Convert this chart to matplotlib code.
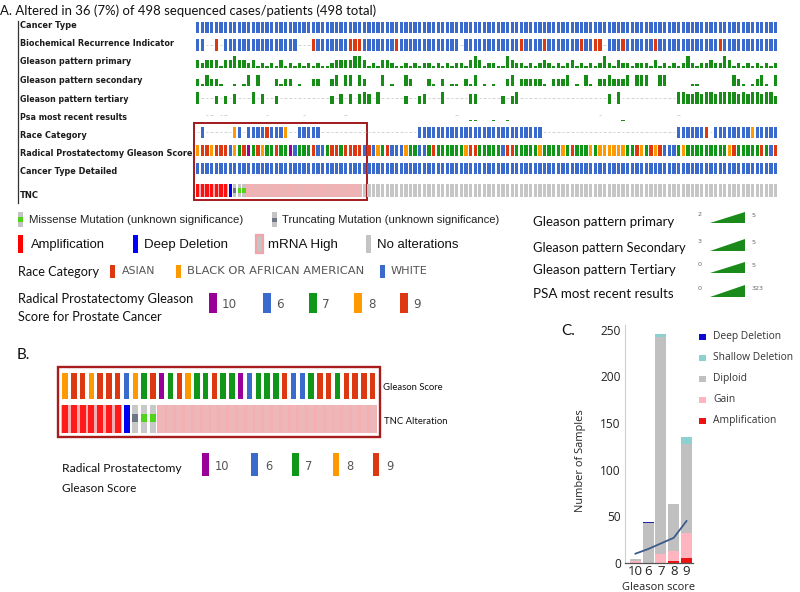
import matplotlib
matplotlib.use('Agg')
import matplotlib.pyplot as plt
from matplotlib.patches import Rectangle, Polygon
import numpy as np

# ---------------- DATA ----------------
N_COLS = 126
track_labels = ["Cancer Type", "Biochemical Recurrence Indicator", "Gleason pattern primary",
                "Gleason pattern secondary", "Gleason pattern tertiary", "Psa most recent results",
                "Race Category", "Radical Prostatectomy Gleason Score", "Cancer Type Detailed", "TNC"]

cancer_type = ("PPPPPPPPPPPPPPPPPPPPPPPPPP"
               "PPPPPPPPPPPPPPPPPPPPPPPPP"
               "PPPPPPPPPPPPPPPPPPPPPPPPP"
               "PPPPPPPPPPPPPPPPPPPPPPPPP"
               "PPPPPPPPPPPPPPPPPPPPPPPPP")
biochem = ("NN--Y-NNNNNNNNNNNNNNNN---Y"
           "NNNNNNNYYYNNNNNNNYNNNNNNN"
           "NNNNNN-NNNNNNNNNNNNYNNNNY"
           "NNNNNNNYNNYY-NNNYNNNNNNYN"
           "NNNNNNNNNNNNYNNNNNNNNNNNN")
gleason_primary = ("43444244544342323242323232"
                   "3223444455423244322323233"
                   "2323233245423322543323234"
                   "3232342323235324332333242"
                   "3232353233433542323232323")
gleason_secondary = ("435443--3-35-5---4344-3--4"
                     "4--45-55-54---5-3--54---4"
                     "3-4-33-435-3-3--45-444443"
                     "-4445-3-53-4454445-555--5"
                     "5-----33-------543-3453-5")
gleason_tertiary = ("5---3-3-4---5-4--3--------"
                    "---3-4-4-454-5-----3--34-"
                    "--5-----44-----3-35------"
                    "-------------4-5---------"
                    "---5544545545555454554553")
psa_tens = ("00--0--00000000-0000000-00"
            "000000-000000000000000000"
            "00000-0023000200200000000"
            "00000000000-0000200000000"
            "000-000000000000000000000")
race = ("-W------BW-WWWWAWWWB--WWWW"
        "W---------------------WWW"
        "WWWWWWWWWWWWWWWWWWWWWWWW-"
        "-------------------------"
        "---WWWWWWA-WWWWWWWWBWWWWW")
rp_gleason = ("899899968790798779770677796679979999"
              "69687966687766"
              "7977777789977777699777778"
              "7777879777878888887798798"
              "96667877777777789777779769")
cancer_type_detailed = ("PPPPPPPPPPPPPPPPPPPPPPPPPP"
                        "PPPPPPPPPPPPPPPPPPPPPPPPP"
                        "PPPPPPPPPPPPPPPPPPPPPPPPP"
                        "PPPPPPPPPPPPPPPPPPPPPPPPP"
                        "PPPPPPPPPPPPPPPPPPPPPPPPP")
tnc = ("AAAAAAADTMMHHHHHHHHHHHHHHHHHHHHHHHHH"
       "NNNNNNNNNNNNNNNNNNNNNNNNNNNNNN"
       "NNNNNNNNNNNNNNNNNNNNNNNNNNNNNN"
       "NNNNNNNNNNNNNNNNNNNNNNNNNNNNNN")
for s in (cancer_type, biochem, gleason_primary, gleason_secondary, gleason_tertiary,
          psa_tens, race, rp_gleason, cancer_type_detailed, tnc):
    assert len(s) == N_COLS, len(s)

n_altered_box = 36  # columns in highlighted box / panel B

gleason_legend = ["10", "6", "7", "8", "9"]
race_legend = ["ASIAN", "BLACK OR AFRICAN AMERICAN", "WHITE"]
alt_legend = ["Amplification", "Deep Deletion", "mRNA High", "No alterations"]
range_rows = ["Gleason pattern primary", "Gleason pattern Secondary",
              "Gleason pattern Tertiary", "PSA most recent results"]
range_lo = ["2", "3", "0", "0"]
range_hi = ["5", "5", "5", "323"]

# Panel C
c_cats = ["10", "6", "7", "8", "9"]
c_amplification = [0, 0, 0, 2, 5]
c_gain = [2, 0, 10, 11, 27]
c_diploid = [2, 43, 232, 50, 96]
c_shallow = [0, 0, 3, 0, 7]
c_deep = [0, 1, 0, 0, 0]
c_trend = [10, 15, 21, 27, 45]

# ---------------- STYLE ----------------
BLUE = '#3a6bcc'; RED = '#dc3912'; ORANGE = '#ff9900'; GREEN = '#109618'; PURPLE = '#990099'
NUMG = '#178c17'
g_colors = {'0': PURPLE, '6': BLUE, '7': GREEN, '8': ORANGE, '9': RED}

W, H = 800, 592
fig = plt.figure(figsize=(8, 5.92), dpi=100)
fig.patch.set_facecolor('white')
ax0 = fig.add_axes([0, 0, 1, 1])
ax0.set_xlim(0, W); ax0.set_ylim(H, 0); ax0.axis('off')
renderer = fig.canvas.get_renderer()


def px_axes(x0, y0, x1, y1, z=1):
    a = fig.add_axes([x0 / W, 1 - y1 / H, (x1 - x0) / W, (y1 - y0) / H])
    a.set_zorder(z)
    return a


def fit_text(ax, x, y, s, width, family='Lato', weight='normal', color='#111',
             ha='left', va='center', rotation=0, size=None):
    t = ax.text(x, y, s, fontsize=10 if size is None else size, family=family,
                weight=weight, color=color, ha=ha, va=va, rotation=rotation)
    if size is None:
        bb = t.get_window_extent(renderer=renderer)
        cur = bb.height if rotation == 90 else bb.width
        t.set_fontsize(10 * width / cur)
    return t

# ---------------- PANEL A ----------------
fit_text(ax0, 0, 11, "A. Altered in 36 (7%) of 498 sequenced cases/patients (498 total)", 378,
         family='Lato', color='#111')
ax0.plot([18, 18], [21, 203], color='#333333', lw=0.9)

label_y = [25.7, 43.7, 62, 80.7, 99, 117, 135, 153, 171.7, 195]
label_w = [57, 155, 110.5, 123, 108, 107.5, 66.5, 173, 97, 19]
for lab, y, w in zip(track_labels, label_y, label_w):
    fit_text(ax0, 19.5, y, lab, w, family='DejaVu Sans', weight='bold', color='#1c1c1c')

ax1 = px_axes(195.5, 18, 778, 203)
ax1.set_xlim(-0.5, N_COLS - 0.5); ax1.set_ylim(203, 18); ax1.axis('off')
track_top = [21.5, 39, 56.5, 74.5, 92, 109.5, 126.5, 144.5, 162.5, 184]
TH = 11.5
BW = 0.72


def dashes(row, miss):
    if len(miss) == 0:
        return
    y = track_top[row] + TH / 2
    m = np.array(miss)
    ax1.hlines(np.full(len(m), y), m - 0.28, m + 0.28, colors='#d2d2d2', lw=0.7)


def cat_track(row, codes, cmap, dash=True):
    xs = [i for i, c in enumerate(codes) if c in cmap]
    ax1.bar(xs, TH, bottom=track_top[row], width=BW,
            color=[cmap[codes[i]] for i in xs], linewidth=0)
    if dash:
        dashes(row, [i for i, c in enumerate(codes) if c not in cmap])


def num_track(row, codes, lo, hi, dash=True, minh=0.9):
    base = track_top[row] + TH
    xs, hs = [], []
    for i, c in enumerate(codes):
        if c == '-':
            continue
        v = int(c)
        frac = (v - lo + 0.5) / (hi - lo + 0.5)
        xs.append(i); hs.append(max(frac * TH, minh))
    ax1.bar(xs, -np.array(hs), bottom=base, width=BW, color=NUMG, linewidth=0)
    if dash:
        dashes(row, [i for i, c in enumerate(codes) if c == '-'])


cat_track(0, cancer_type, {'P': BLUE})
cat_track(1, biochem, {'N': BLUE, 'Y': RED})
num_track(2, gleason_primary, 2, 5)
num_track(3, gleason_secondary, 3, 5, dash=False)
num_track(4, gleason_tertiary, 0, 5)
# PSA: tiny values
base = track_top[5] + TH
xs = [i for i, c in enumerate(psa_tens) if c not in '-0']
ax1.bar(xs, [-max(int(psa_tens[i]) * 10 / 323 * TH, 0.9) for i in xs], bottom=base,
        width=BW, color=NUMG, linewidth=0)
dashes(5, [i for i, c in enumerate(psa_tens) if c == '-'])
cat_track(6, race, {'W': BLUE, 'A': RED, 'B': ORANGE})
cat_track(7, rp_gleason, g_colors)
cat_track(8, cancer_type_detailed, {'P': BLUE})

# TNC track
TT, TTH = track_top[9], 13
pink_cols = [i for i, c in enumerate(tnc) if c in 'AH']
ax1.bar(pink_cols, TTH, bottom=TT, width=1.0, color='#f4b1b4', linewidth=0)
tnc_col = {'A': '#ff1010', 'D': '#0000ee', 'T': '#c4c4c4', 'M': '#c4c4c4', 'H': '#ecb4b6', 'N': '#c6c6c6'}
ax1.bar(range(N_COLS), TTH, bottom=TT, width=BW, color=[tnc_col[c] for c in tnc], linewidth=0)
for code, col in (('T', '#6d7684'), ('M', '#4fd41a')):
    xs = [i for i, c in enumerate(tnc) if c == code]
    ax1.bar(xs, TTH / 3, bottom=TT + TTH / 3, width=BW, color=col, linewidth=0)

ax0.add_patch(Rectangle((194, 122.5), 173, 77.5, fill=False, ec='#a3191c', lw=1.4, zorder=5))

# ---- legends (left) ----
ax0.add_patch(Rectangle((18, 212), 5, 15, fc='#c4c4c4', lw=0))
ax0.add_patch(Rectangle((18, 217), 5, 5, fc='#4fd41a', lw=0))
fit_text(ax0, 29, 220, "Missense Mutation (unknown significance)", 214, family='Liberation Sans', color='#222')
ax0.add_patch(Rectangle((272, 212), 4.5, 15, fc='#c4c4c4', lw=0))
ax0.add_patch(Rectangle((272, 217.5), 4.5, 4.5, fc='#6d7684', lw=0))
fit_text(ax0, 282, 220, "Truncating Mutation (unknown significance)", 219, family='Liberation Sans', color='#222')

alt_sw = [(18, 5, '#ff0000', None), (133, 5, '#0000ff', None), (255.5, 7.5, '#c4c4c4', '#f4a4a8'),
          (366, 5, '#c4c4c4', None)]
alt_tx = [(31, 74), (144, 84), (268, 70), (377, 82)]
for (x, w, fc, ec), (tx, tw), s in zip(alt_sw, alt_tx, alt_legend):
    ax0.add_patch(Rectangle((x, 235), w, 18, fc=fc, ec=ec if ec else 'none', lw=1.6 if ec else 0))
    fit_text(ax0, tx, 245, s, tw, family='Liberation Sans', color='#111')

fit_text(ax0, 18, 272, "Race Category", 81, family='Lato', color='#111')
race_sw = [(110, RED), (176, ORANGE), (380, BLUE)]
race_tx = [(122, 33), (187, 176), (391, 37)]
for (x, c), (tx, tw), s in zip(race_sw, race_tx, race_legend):
    ax0.add_patch(Rectangle((x, 265), 5, 13, fc=c, lw=0))
    fit_text(ax0, tx, 271.5, s, tw, family='DejaVu Sans', color='#555')

fit_text(ax0, 18, 299, "Radical Prostatectomy Gleason", 176, family='Lato', color='#111')
fit_text(ax0, 18, 317, "Score for Prostate Cancer", 145, family='Lato', color='#111')
gsw_x = [208.5, 263, 309, 354, 400]
gtx_x = [222, 276, 322, 368, 413]
for x, tx, s in zip(gsw_x, gtx_x, gleason_legend):
    c = g_colors['0' if s == '10' else s]
    ax0.add_patch(Rectangle((x, 293), 8, 20, fc=c, lw=0))
    ax0.text(tx, 304, s, fontsize=8.6, family='DejaVu Sans', color='#555', va='center')

# ---- legends (right, ranges) ----
rr_y = [221.7, 248, 270.5, 294]
tri = [(212, 223), (238.5, 251), (262, 273), (285, 297)]
rr_w = [141, 154, 143, 141]
for s, y, (t0, t1), w, lo, hi in zip(range_rows, rr_y, tri, rr_w, range_lo, range_hi):
    fit_text(ax0, 533, y, s, w, family='Lato', color='#111')
    ax0.add_patch(Polygon([(710, t1), (745, t1), (745, t0)], closed=True, fc='#1a8a1a', lw=0))
    ax0.text(698, t0 + 3, lo, fontsize=4.6, family='DejaVu Sans', color='#666', va='center')
    ax0.text(751.5, t0 + 3.5, hi, fontsize=4.6, family='DejaVu Sans', color='#666', va='center')

# ---------------- PANEL B ----------------
ax0.text(17, 355, "B.", fontsize=11, family='Lato', color='#111', va='center')
ax2 = px_axes(60.6, 367, 377, 437)
ax2.set_xlim(-0.5, n_altered_box - 0.5); ax2.set_ylim(437, 367); ax2.axis('off')
bg = rp_gleason[:n_altered_box]
bt = tnc[:n_altered_box]
ax2.bar(range(n_altered_box), 26, bottom=373, width=0.62, color=[g_colors[c] for c in bg], linewidth=0)
pk = [i for i, c in enumerate(bt) if c in 'AH']
ax2.bar(pk, 28, bottom=405, width=1.0, color='#f5aeb1', linewidth=0)
btc = {'A': '#ff1a1a', 'D': '#0000f0', 'T': '#c8c8c8', 'M': '#c8c8c8', 'H': '#edb6b8'}
ax2.bar(range(n_altered_box), 28, bottom=405, width=0.68, color=[btc[c] for c in bt], linewidth=0)
for code, col in (('T', '#6d7684'), ('M', '#4fd41a')):
    xs = [i for i, c in enumerate(bt) if c == code]
    ax2.bar(xs, 8, bottom=414, width=0.68, color=col, linewidth=0)
ax0.add_patch(Rectangle((58, 367), 322, 70, fill=False, ec='#a81c1c', lw=1.7, zorder=5))
fit_text(ax0, 383, 388, "Gleason Score", 60, family='Lato', color='#111')
fit_text(ax0, 384, 421, "TNC Alteration", 63, family='Lato', color='#111')
fit_text(ax0, 62, 469, "Radical Prostatectomy", 120, family='Lato', color='#111')
fit_text(ax0, 62, 488, "Gleason Score", 74, family='Lato', color='#111')
bsw_x = [202, 251, 292, 332.5, 372.5]
btx_x = [215, 265, 305, 346, 386]
for x, tx, s in zip(bsw_x, btx_x, gleason_legend):
    c = g_colors['0' if s == '10' else s]
    ax0.add_patch(Rectangle((x, 453), 6.5, 23, fc=c, lw=0))
    ax0.text(tx, 467, s, fontsize=8.3, family='DejaVu Sans', color='#555', va='center')

# ---------------- PANEL C ----------------
ax0.text(561, 331, "C.", fontsize=11, family='Lato', color='#111', va='center')
ax3 = px_axes(625, 325, 693, 563)
xc = np.arange(len(c_cats))
cw = 0.86
bottom = np.zeros(len(c_cats))
for vals, col in ((c_amplification, '#ee1111'), (c_gain, '#ffb5c0'), (c_diploid, '#c0c0c0'),
                  (c_shallow, '#8dd0d0'), (c_deep, '#1f1fa8')):
    ax3.bar(xc, vals, bottom=bottom, width=cw, color=col, linewidth=0)
    bottom += np.array(vals)
ax3.plot(xc, c_trend, color='#3b5b8c', lw=1.3)
ax3.set_xlim(-0.82, 4.51); ax3.set_ylim(0, 255)
ax3.set_xticks(xc); ax3.set_xticklabels(c_cats)
ax3.set_yticks([0, 50, 100, 150, 200, 250])
ax3.tick_params(length=0, labelsize=8.6, colors='#222', pad=3)
for lb in ax3.get_xticklabels() + ax3.get_yticklabels():
    lb.set_family('Open Sans')
ax3.tick_params(axis='x', pad=1.5, labelsize=9.5)
for sp in ('top', 'right'):
    ax3.spines[sp].set_visible(False)
ax3.spines['left'].set_color('#cfcfcf'); ax3.spines['left'].set_lw(0.8)
ax3.spines['bottom'].set_color('#555555'); ax3.spines['bottom'].set_lw(0.9)
ax3.set_facecolor('none')
fit_text(ax0, 580, 461, "Number of Samples", 102, family='Open Sans', color='#222',
         ha='center', rotation=90)
fit_text(ax0, 659, 587, "Gleason score", 72, family='Open Sans', color='#222', ha='center')

c_leg = ["Deep Deletion", "Shallow Deletion", "Diploid", "Gain", "Amplification"]
c_leg_col = ['#0a0ad0', '#8dd0d0', '#c0c0c0', '#ffb5c0', '#ee1111']
c_leg_y = [337, 358, 379, 400, 421]
t = fit_text(ax0, 713, c_leg_y[1], c_leg[1], 80, family='Open Sans', color='#333')
fs = t.get_fontsize()
for s, c, y in zip(c_leg, c_leg_col, c_leg_y):
    ax0.add_patch(Rectangle((699, y - 3.5), 6.5, 6.5, fc=c, lw=0))
    if s != c_leg[1]:
        ax0.text(713, y, s, fontsize=fs, family='Open Sans', color='#333', va='center')

fig.savefig('out.png', dpi=100, facecolor='white')
